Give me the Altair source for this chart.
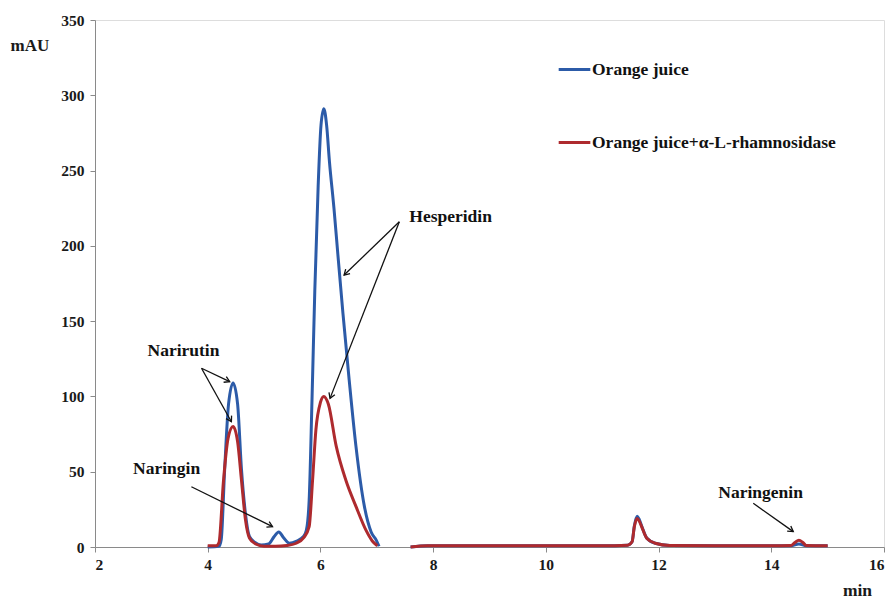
import math
import altair as alt
import pandas as pd

# ---------------- data ----------------
series_names = ["Orange juice", "Orange juice+\u03b1-L-rhamnosidase"]
series_colors = ["#2C5BA8", "#AE2A2E"]

# Orange juice (blue) - first segment
blue_t1 = [4.00, 4.20, 4.24, 4.30, 4.37, 4.45, 4.53, 4.60, 4.67, 4.74, 4.84, 4.95, 5.08, 5.18,
           5.26, 5.35, 5.45, 5.58, 5.70, 5.75, 5.80, 5.85, 5.90, 5.96, 6.01, 6.06, 6.11, 6.16,
           6.24, 6.31, 6.40, 6.51, 6.63, 6.78, 6.90, 6.99, 7.04]
blue_v1 = [0.0, 0.5, 5.0, 51.0, 95.0, 109.0, 95.0, 51.0, 22.0, 7.0, 3.0, 1.3, 2.0, 7.0,
           10.0, 6.0, 2.5, 4.0, 7.0, 11.0, 31.0, 97.0, 170.0, 240.0, 280.0, 291.0, 280.0, 256.0,
           225.0, 194.0, 155.0, 111.0, 67.0, 27.0, 10.0, 4.6, 0.5]
# Orange juice (blue) - second segment
blue_t2 = [7.60, 7.90, 9.00, 10.00, 11.00, 11.45, 11.53, 11.57, 11.62, 11.66, 11.70, 11.79,
           11.94, 12.20, 13.00, 14.00, 14.35, 14.49, 14.62, 14.95, 15.00]
blue_v2 = [0.0, 0.8, 0.8, 0.8, 0.8, 1.2, 3.5, 14.0, 20.5, 18.0, 14.0, 6.0,
           2.5, 1.0, 0.8, 0.8, 0.9, 2.0, 0.9, 0.8, 0.8]

# Orange juice + alpha-L-rhamnosidase (red) - first segment
red_t1 = [4.00, 4.15, 4.20, 4.28, 4.36, 4.45, 4.53, 4.60, 4.67, 4.74, 4.85, 5.00, 5.20,
          5.40, 5.57, 5.70, 5.80, 5.86, 5.92, 6.00, 6.06, 6.14, 6.28, 6.45, 6.63, 6.81, 6.92, 7.01]
red_v1 = [0.8, 0.8, 3.0, 44.0, 72.0, 80.0, 70.0, 44.0, 18.0, 6.0, 2.0, 0.5, 0.5,
          1.0, 2.5, 6.0, 13.5, 44.0, 78.0, 96.0, 100.0, 95.0, 67.0, 44.5, 27.0, 11.0, 4.0, 0.8]
# red - second segment
red_t2 = [7.60, 7.90, 9.00, 10.00, 11.00, 11.45, 11.53, 11.57, 11.62, 11.66, 11.70, 11.79,
          11.94, 12.20, 13.00, 14.00, 14.35, 14.42, 14.49, 14.56, 14.62, 14.95, 15.00]
red_v2 = [0.0, 0.8, 0.8, 0.8, 0.8, 1.2, 3.5, 13.5, 19.0, 17.0, 13.5, 5.8,
          2.5, 1.0, 0.8, 0.8, 1.0, 3.0, 4.5, 3.0, 1.0, 0.8, 0.8]

# annotations
label_texts = ["Hesperidin", "Narirutin", "Naringin", "Naringenin"]
label_x = [8.31, 3.57, 3.27, 13.81]
label_y = [219.0, 130.0, 51.8, 35.9]

arrow_x0 = [7.40, 7.40, 3.89, 3.89, 3.71, 13.68]
arrow_y0 = [216.0, 216.0, 118.7, 118.7, 40.0, 29.0]
arrow_x1 = [6.42, 6.17, 4.39, 4.42, 5.15, 14.39]
arrow_y1 = [180.6, 98.7, 109.8, 83.2, 13.5, 10.2]

x_ticks = [2, 4, 6, 8, 10, 12, 14, 16]
y_ticks = [0, 50, 100, 150, 200, 250, 300, 350]

# ---------------- layout ----------------
W, H = 789, 527
X_DOM = [2, 16]
Y_DOM = [0, 350]
FONT = "Liberation Serif"

rows = []
for name, segs in [(series_names[0], [(blue_t1, blue_v1), (blue_t2, blue_v2)]),
                   (series_names[1], [(red_t1, red_v1), (red_t2, red_v2)])]:
    for si, (ts, vs) in enumerate(segs):
        for t, v in zip(ts, vs):
            rows.append({"series": name, "seg": si, "t": t, "v": v})
df = pd.DataFrame(rows)

px_per_x = W / (X_DOM[1] - X_DOM[0])
px_per_y = H / (Y_DOM[1] - Y_DOM[0])
arrows = pd.DataFrame({"x0": arrow_x0, "y0": arrow_y0, "x1": arrow_x1, "y1": arrow_y1})
arrows["ang"] = [
    math.degrees(math.atan2(-(b1 - b0) * px_per_y, (a1 - a0) * px_per_x)) % 360
    for a0, b0, a1, b1 in zip(arrow_x0, arrow_y0, arrow_x1, arrow_y1)
]
labels = pd.DataFrame({"text": label_texts, "x": label_x, "y": label_y})

xscale = alt.Scale(domain=X_DOM, nice=False, zero=False)
yscale = alt.Scale(domain=Y_DOM, nice=False, zero=False)

x_axis = alt.Axis(values=x_ticks, format="d", grid=False, title="min",
                  titleX=762, titleY=43, titleAlign="center", titleBaseline="middle",
                  labelFont=FONT, labelFontWeight="bold", labelFontSize=15.5, labelColor="#1a1a1a",
                  titleFont=FONT, titleFontWeight="bold", titleFontSize=17.5, titleColor="#1a1a1a",
                  domainColor="#8a8a8a", tickColor="#8a8a8a", tickSize=5, labelPadding=5)
y_axis = alt.Axis(values=y_ticks, grid=False, title="mAU", titleAngle=0,
                  titleX=-85, titleY=25, titleAlign="left", titleBaseline="middle",
                  labelFont=FONT, labelFontWeight="bold", labelFontSize=15.5, labelColor="#1a1a1a",
                  titleFont=FONT, titleFontWeight="bold", titleFontSize=17, titleColor="#1a1a1a",
                  domainColor="#8a8a8a", tickColor="#8a8a8a", tickSize=5, labelPadding=6)

lines = alt.Chart(df).mark_line(strokeWidth=3, interpolate="monotone").encode(
    x=alt.X("t:Q", scale=xscale, axis=x_axis),
    y=alt.Y("v:Q", scale=yscale, axis=y_axis),
    color=alt.Color("series:N",
                    scale=alt.Scale(domain=series_names, range=series_colors),
                    legend=alt.Legend(title=None, orient="none", legendX=462, legendY=32,
                                      symbolType="stroke", symbolSize=1000, symbolStrokeWidth=3,
                                      labelFont=FONT, labelFontWeight="bold", labelFontSize=17.5,
                                      labelColor="#111", labelOffset=0, rowPadding=47,
                                      labelLimit=400)),
    detail="seg:N",
    order="t:Q",
)

rules = alt.Chart(arrows).mark_rule(color="#111", strokeWidth=1.3).encode(
    x=alt.X("x0:Q", scale=xscale), y=alt.Y("y0:Q", scale=yscale),
    x2="x1:Q", y2="y1:Q",
)

heads = alt.Chart(arrows).mark_point(
    shape="M-1,-0.6L0,0L-1,0.6", filled=False, color="#111", strokeWidth=1.3, size=110, opacity=1
).encode(
    x=alt.X("x1:Q", scale=xscale), y=alt.Y("y1:Q", scale=yscale),
    angle=alt.Angle("ang:Q", scale=None),
)

texts = alt.Chart(labels).mark_text(
    font=FONT, fontWeight="bold", fontSize=17.5, color="#111", align="center", baseline="middle"
).encode(
    x=alt.X("x:Q", scale=xscale), y=alt.Y("y:Q", scale=yscale), text="text:N",
)

chart = alt.layer(lines, rules, heads, texts).properties(
    width=W, height=H,
    autosize=alt.AutoSizeParams(type="none"),
    padding={"left": 95, "top": 20, "right": 8, "bottom": 51},
).configure_view(stroke=None).configure(background="white")

chart.save("out.html", embed_options={"renderer": "svg", "actions": False})
